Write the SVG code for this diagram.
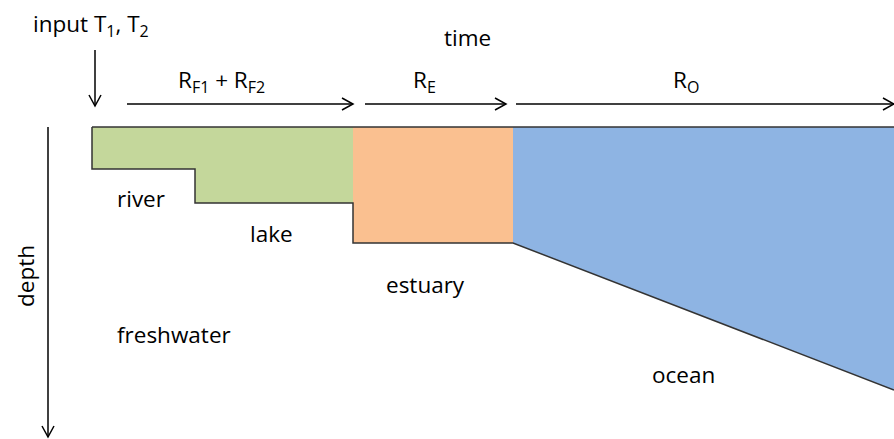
<svg xmlns="http://www.w3.org/2000/svg" width="894" height="439" viewBox="0 0 894 439">
<defs>
<marker id="arr" markerWidth="14" markerHeight="14" refX="12" refY="7" orient="auto" markerUnits="userSpaceOnUse">
<path d="M1,1 L12,7 L1,13" fill="none" stroke="#000" stroke-width="1.5"/>
</marker>
</defs>
<style>
text{font-family:"Open Sans","Liberation Sans",sans-serif;font-size:22.5px;fill:#000}
.sub{font-size:16px}
.ax{stroke:#000;stroke-width:1.5;fill:none}
.edge{stroke:#333;stroke-width:1.5;fill:none}
</style>
<rect width="894" height="439" fill="#fff"/>
<g id="regions">
<path id="freshwater-region" d="M92,127 L353,127 L353,243 L353,203 L195,203 L195,169 L92,169 Z" fill="#c4d79b"/>
<rect id="estuary-region" x="353" y="127" width="160" height="116" fill="#fac090"/>
<path id="ocean-region" d="M513,127 L894,127 L894,390 L513,243 Z" fill="#8eb4e3"/>
<path class="edge" d="M92,127 L92,169 L195,169 L195,203 L353,203 L353,243 L513,243 L894,390"/>
<path class="edge" d="M92,127 L894,127"/>
</g>
<g id="connectors">
<line class="ax" x1="95" y1="50" x2="95" y2="106" marker-end="url(#arr)"/>
<line class="ax" x1="48" y1="127" x2="48" y2="437" marker-end="url(#arr)"/>
<line class="ax" x1="127" y1="104" x2="353" y2="104" marker-end="url(#arr)"/>
<line class="ax" x1="365" y1="104" x2="506" y2="104" marker-end="url(#arr)"/>
<line class="ax" x1="516" y1="104" x2="894" y2="104" marker-end="url(#arr)"/>
</g>
<g id="labels">
<text x="33" y="32">input T<tspan class="sub" dy="5">1</tspan><tspan dy="-5">, T</tspan><tspan class="sub" dy="5">2</tspan></text>
<text x="444" y="46">time</text>
<text x="178" y="88">R<tspan class="sub" dy="5">F1</tspan><tspan dy="-5"> + R</tspan><tspan class="sub" dy="5">F2</tspan></text>
<text x="413" y="88">R<tspan class="sub" dy="5">E</tspan></text>
<text x="673" y="88">R<tspan class="sub" dy="5">O</tspan></text>
<text x="117" y="207">river</text>
<text x="250" y="242">lake</text>
<text x="386" y="293">estuary</text>
<text x="117" y="343">freshwater</text>
<text x="652" y="383">ocean</text>
<text x="0" y="0" transform="translate(34,276) rotate(-90)" text-anchor="middle">depth</text>
</g>
</svg>
